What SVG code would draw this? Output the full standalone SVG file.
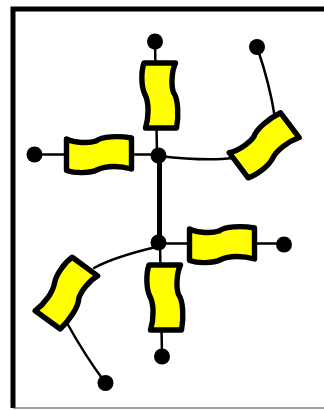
<svg xmlns="http://www.w3.org/2000/svg" width="324" height="410" viewBox="0 0 324 410">
<style>
.wire{fill:none;stroke:#000;stroke-width:2.5;stroke-linecap:round}
.dot{fill:#000}
.blk{fill:#ff0;stroke:#000;stroke-width:5.4;stroke-linejoin:round}
</style>
<defs>
<path id="b" d="M-32.5,-15.5 C-24,-11.5 -10,-11 -3,-13.5 C3,-18 19,-19 32.5,-16.5 L32.5,14.5 C21,11 7,11 -1,15 C-9,19 -24,19 -32.5,16 Z"/>
</defs>
<rect width="324" height="410" fill="#fff"/>
<g id="frame" fill="none" stroke="#000">
<path d="M324,9 H13 V408" stroke-width="5"/>
<path d="M13,408 H324" stroke-width="1.2" stroke="#444"/>
</g>
<g id="connectors">
<path class="wire" d="M155,41 L157,155"/>
<path class="wire" d="M34.5,154.5 H158"/>
<path class="wire" d="M158.5,156 C185,159 210,161 233,158"/>
<path class="wire" d="M257,47 C265,70 271,92 275,118"/>
<path class="wire" d="M158.5,243.5 H284"/>
<path class="wire" d="M156,247 C135,252 112,258 94,268"/>
<path class="wire" d="M67,323 C78,343 92,365 105.5,383"/>
<path class="wire" d="M160,243 L162,356"/>
<path d="M159.5,155 V242" fill="none" stroke="#000" stroke-width="5"/>
</g>
<g id="n1"><circle class="dot" cx="155" cy="41.5" r="8"/></g>
<g id="n2"><circle class="dot" cx="34.5" cy="154.5" r="8"/></g>
<g id="n3"><circle class="dot" cx="257" cy="47" r="8"/></g>
<g id="n4"><circle class="dot" cx="284" cy="244.5" r="8"/></g>
<g id="n5"><circle class="dot" cx="162" cy="356.5" r="8"/></g>
<g id="n6"><circle class="dot" cx="105.5" cy="383" r="8"/></g>
<g id="j1"><circle class="dot" cx="158.5" cy="155.5" r="8"/></g>
<g id="j2"><circle class="dot" cx="158.5" cy="242.5" r="8"/></g>
<g id="b1"><use href="#b" class="blk" transform="translate(99,154.5)"/></g>
<g id="b2"><use href="#b" class="blk" transform="translate(160,95.5) rotate(90)"/></g>
<g id="b3"><use href="#b" class="blk" transform="translate(264.5,145.5) rotate(-37)"/></g>
<g id="b4"><use href="#b" class="blk" transform="translate(222,244.5)"/></g>
<g id="b5"><use href="#b" class="blk" transform="translate(165,297.5) rotate(90)"/></g>
<g id="b6"><use href="#b" class="blk" transform="translate(66,293) rotate(126)"/></g>
</svg>
